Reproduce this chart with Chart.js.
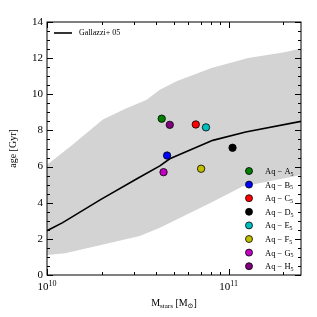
<!DOCTYPE html>
<html>
<head>
<meta charset="utf-8">
<script src="https://cdn.jsdelivr.net/npm/chart.js@4"></script>
<style>
  html, body { margin: 0; padding: 0; background: #fff; }
  #wrap { width: 317px; height: 317px; }
</style>
</head>
<body>
<div id="wrap"><canvas id="chart" width="317" height="317"></canvas></div>
<script>
// Simulated galaxies (stellar mass, mean age)
const haloNames = ["A", "B", "C", "D", "E", "F", "G", "H"];
const haloMass = [4.28e10, 4.58e10, 6.59e10, 1.05e11, 7.5e10, 7.05e10, 4.38e10, 4.74e10];
const haloAge = [8.65, 6.61, 8.33, 7.04, 8.17, 5.88, 5.69, 8.31];
const haloColors = ["#008000", "#0000ff", "#ff0000", "#000000", "#00bfbf", "#bfbf00", "#bf00bf", "#800080"];

// Gallazzi+05 median relation
const galMass = [1e10, 1.22e10, 1.96e10, 3.16e10, 4.18e10, 4.74e10, 8.17e10, 1.24e11, 2.5e11];
const galAge = [2.45, 2.9, 4.16, 5.35, 6.04, 6.43, 7.45, 7.91, 8.5];

// Gallazzi+05 percentile band
const upperMass = [1e10, 1.34e10, 2.03e10, 2.7e10, 3.54e10, 4.18e10, 5.16e10, 8.04e10, 1.28e11, 2.03e11, 2.5e11];
const upperAge = [6.1, 7.1, 8.6, 9.2, 9.7, 10.25, 10.72, 11.46, 12.01, 12.32, 12.53];
const lowerMass = [1e10, 1.26e10, 3.24e10, 4.18e10, 7.87e10, 1.19e11, 2.5e11];
const lowerAge = [1.1, 1.2, 2.16, 2.62, 3.97, 4.9, 5.54];

// axis ticks
const yMajor = [0, 2, 4, 6, 8, 10, 12, 14];
const yMinor = [1, 3, 5, 7, 9, 11, 13, 0.5, 1.5, 2.5, 3.5, 4.5, 5.5, 6.5, 7.5, 8.5, 9.5, 10.5, 11.5, 12.5, 13.5];
const xMajor = [1e10, 1e11];
const xMinor = [2e10, 3e10, 4e10, 5e10, 6e10, 7e10, 8e10, 9e10, 2e11];

const serif = '"Liberation Serif", "DejaVu Serif", serif';

const band = upperMass.map((m, i) => ({ x: m, y: upperAge[i] }))
  .concat(lowerMass.map((m, i) => ({ x: m, y: lowerAge[i] })).reverse());

const datasets = [
  {
    label: "band",
    data: band,
    showLine: true,
    fill: "shape",
    backgroundColor: "#d3d3d3",
    borderWidth: 0,
    pointRadius: 0,
    order: 3
  },
  {
    label: "Gallazzi+ 05",
    data: galMass.map((m, i) => ({ x: m, y: galAge[i] })),
    showLine: true,
    borderColor: "#000",
    borderWidth: 1.6,
    pointRadius: 0,
    fill: false,
    order: 2
  }
];
haloNames.forEach((n, i) => {
  datasets.push({
    label: "Aq\u2212" + n,
    data: [{ x: haloMass[i], y: haloAge[i] }],
    backgroundColor: haloColors[i],
    borderColor: "#000",
    borderWidth: 0.8,
    pointRadius: 3.7,
    order: 1
  });
});

function sub(ctx, x, y, main, small, size) {
  ctx.font = size + "px " + serif;
  ctx.fillText(main, x, y);
  let w = ctx.measureText(main).width;
  ctx.font = Math.round(size * 0.7) + "px " + serif;
  ctx.fillText(small, x + w, y + size * 0.22);
  return w + ctx.measureText(small).width;
}

const decor = {
  id: "decor",
  afterDatasetsDraw(chart) {
    const ctx = chart.ctx;
    const a = chart.chartArea;
    const xs = chart.scales.x, ys = chart.scales.y;
    ctx.save();
    ctx.strokeStyle = "#000";
    ctx.fillStyle = "#000";
    ctx.lineWidth = 1;
    ctx.strokeRect(a.left, a.top, a.right - a.left, a.bottom - a.top);

    // ticks inward on all sides
    ctx.beginPath();
    yMajor.forEach(v => {
      const p = Math.round(ys.getPixelForValue(v)) + 0.5;
      ctx.moveTo(a.left, p); ctx.lineTo(a.left + 6, p);
      ctx.moveTo(a.right, p); ctx.lineTo(a.right - 6, p);
    });
    yMinor.forEach(v => {
      const p = Math.round(ys.getPixelForValue(v)) + 0.5;
      ctx.moveTo(a.left, p); ctx.lineTo(a.left + 3, p);
      ctx.moveTo(a.right, p); ctx.lineTo(a.right - 3, p);
    });
    xMajor.forEach(v => {
      const p = Math.round(xs.getPixelForValue(v)) + 0.5;
      ctx.moveTo(p, a.bottom); ctx.lineTo(p, a.bottom - 6);
      ctx.moveTo(p, a.top); ctx.lineTo(p, a.top + 6);
    });
    xMinor.forEach(v => {
      const p = Math.round(xs.getPixelForValue(v)) + 0.5;
      ctx.moveTo(p, a.bottom); ctx.lineTo(p, a.bottom - 3);
      ctx.moveTo(p, a.top); ctx.lineTo(p, a.top + 3);
    });
    ctx.stroke();

    // tick labels
    ctx.font = "11px " + serif;
    ctx.textAlign = "right";
    ctx.textBaseline = "middle";
    yMajor.forEach(v => ctx.fillText(String(v), a.left - 4, ys.getPixelForValue(v)));
    ctx.textBaseline = "alphabetic";
    xMajor.forEach(v => {
      const p = xs.getPixelForValue(v);
      const e = String(Math.round(Math.log10(v)));
      ctx.font = "11px " + serif;
      const w1 = ctx.measureText("10").width;
      ctx.font = "8px " + serif;
      const w2 = ctx.measureText(e).width;
      const x0 = p - (w1 + w2) / 2;
      ctx.textAlign = "left";
      ctx.font = "11px " + serif;
      ctx.fillText("10", x0, a.bottom + 15);
      ctx.font = "8px " + serif;
      ctx.fillText(e, x0 + w1, a.bottom + 11);
    });

    // axis titles
    ctx.textAlign = "left";
    ctx.font = "10px " + serif;
    let w = ctx.measureText("M").width;
    ctx.font = "7px " + serif;
    w += ctx.measureText("stars").width;
    ctx.font = "10px " + serif;
    w += ctx.measureText(" [M").width;
    ctx.font = "7px " + serif;
    w += ctx.measureText("\u2299").width;
    ctx.font = "10px " + serif;
    w += ctx.measureText("]").width;
    let x = (a.left + a.right) / 2 - w / 2;
    const yb = a.bottom + 31;
    x += sub(ctx, x, yb, "M", "stars", 10);
    x += sub(ctx, x, yb, " [M", "\u2299", 10);
    ctx.font = "10px " + serif;
    ctx.fillText("]", x, yb);

    ctx.save();
    ctx.translate(16, (a.top + a.bottom) / 2);
    ctx.rotate(-Math.PI / 2);
    ctx.textAlign = "center";
    ctx.font = "10px " + serif;
    ctx.fillText("age [Gyr]", 0, 0);
    ctx.restore();

    // Gallazzi legend
    ctx.lineWidth = 1.6;
    ctx.beginPath();
    ctx.moveTo(a.left + 7, a.top + 11);
    ctx.lineTo(a.left + 25, a.top + 11);
    ctx.stroke();
    ctx.font = "8px " + serif;
    ctx.textBaseline = "middle";
    ctx.fillText(chart.data.datasets[1].label, a.left + 32, a.top + 11);

    // halo legend
    haloNames.forEach((n, i) => {
      const ly = a.bottom - 104 + i * 13.6;
      ctx.beginPath();
      ctx.arc(a.right - 52, ly, 3.5, 0, Math.PI * 2);
      ctx.fillStyle = haloColors[i];
      ctx.fill();
      ctx.lineWidth = 0.8;
      ctx.strokeStyle = "#000";
      ctx.stroke();
      ctx.fillStyle = "#000";
      ctx.textBaseline = "alphabetic";
      let lx = a.right - 36;
      lx += sub(ctx, lx, ly + 3, "Aq \u2212 " + n, "5", 8.5);
    });
    ctx.restore();
  }
};

new Chart(document.getElementById("chart"), {
  type: "scatter",
  data: { datasets: datasets },
  options: {
    responsive: false,
    animation: false,
    layout: { padding: { left: 47, right: 16, top: 22, bottom: 42 } },
    plugins: { legend: { display: false }, tooltip: { enabled: false } },
    scales: {
      x: {
        type: "logarithmic", min: 1e10, max: 2.5e11,
        grid: { display: false }, border: { display: false },
        ticks: { display: false },
        afterFit: s => { s.height = 0; }
      },
      y: {
        min: 0, max: 14,
        grid: { display: false }, border: { display: false },
        ticks: { display: false },
        afterFit: s => { s.width = 0; }
      }
    }
  },
  plugins: [decor]
});
</script>
</body>
</html>
